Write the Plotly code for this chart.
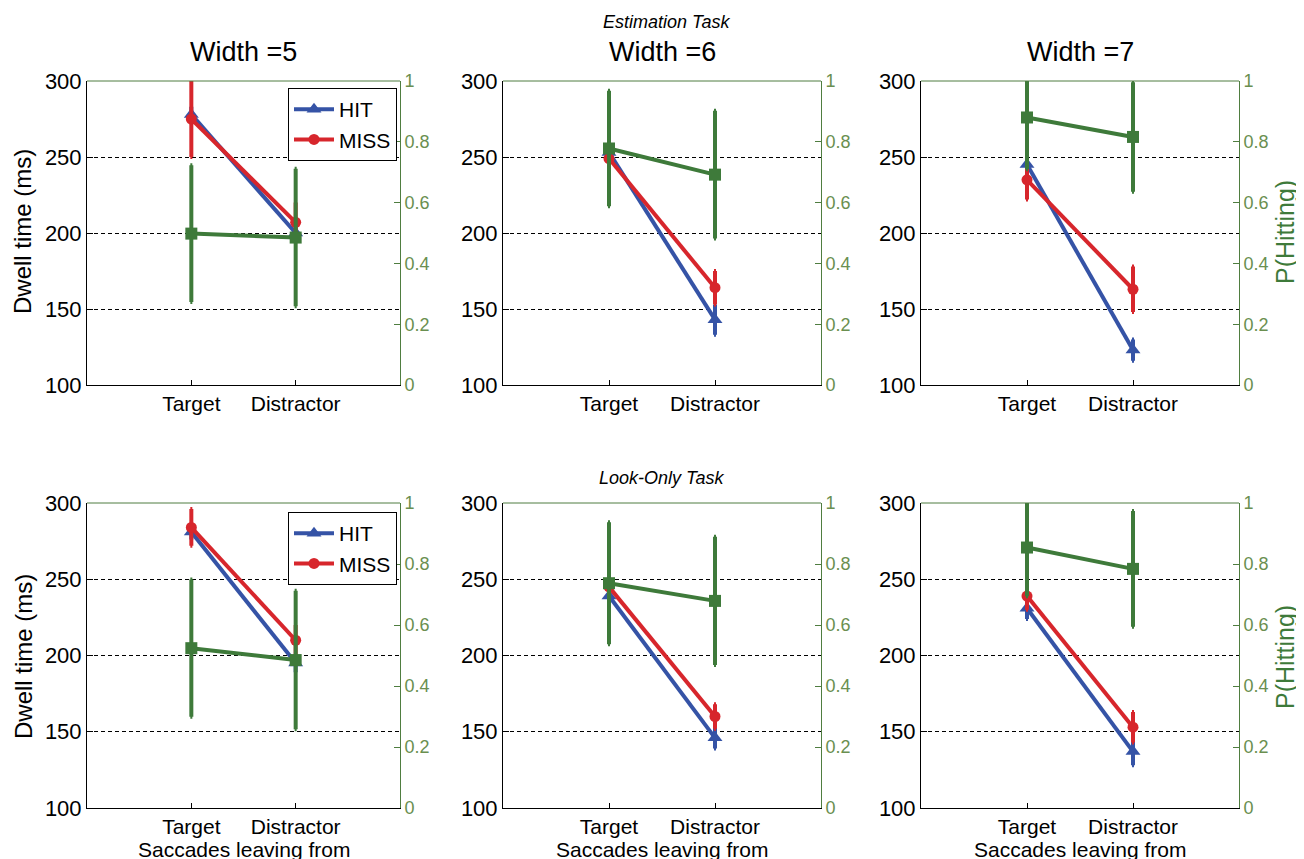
import plotly.graph_objects as go

# ---------------- data ----------------
panel_titles = ["Width =5", "Width =6", "Width =7"]
categories = ["Target", "Distractor"]
row_titles = ["Estimation Task", "Look-Only Task"]
left_ticks = [100, 150, 200, 250, 300]
right_ticks = [0, 0.2, 0.4, 0.6, 0.8, 1]
right_ticklabels = ["0", "0.2", "0.4", "0.6", "0.8", "1"]

# Estimation task
est_hit = [[278, 200], [253, 143], [245, 123]]
est_hit_err = [[5, 6], [18, 10], [5, 7]]
est_miss = [[275, 207], [249, 164], [235, 163]]
est_miss_err = [[25, 13], [14, 11], [13, 15]]
est_p = [[0.498, 0.485], [0.778, 0.692], [0.88, 0.816]]
est_p_err = [[0.225, 0.226], [0.19, 0.21], [0.17, 0.18]]

# Look-only task
look_hit = [[281, 195], [239, 146], [231, 137]]
look_hit_err = [[5, 6], [6, 7], [7, 9]]
look_miss = [[284, 210], [245, 160], [239, 153]]
look_miss_err = [[12, 10], [10, 8], [9, 10]]
look_p = [[0.524, 0.485], [0.737, 0.679], [0.854, 0.784]]
look_p_err = [[0.225, 0.227], [0.2, 0.21], [0.16, 0.19]]

# ---------------- style ----------------
W, H = 1304, 859
OFF = 8  # page body margin
BLUE = "#3553a6"
RED = "#d7262c"
GREEN = "#3e7a3a"
AXGREEN = "#4f7d40"
LBLGREEN = "#6a8f50"
FONT = "Liberation Sans, Arial, sans-serif"

col_px = [(87, 400), (503, 821), (921, 1239)]
row_px = [(81, 385), (503, 808)]


def fx(px):
    return (px - OFF) / W


def fy(py):
    return 1 - (py - OFF) / H


def aname(prefix, n):
    return prefix if n == 1 else f"{prefix}{n}"


fig = go.Figure()
layout = {}
annotations = []
shapes = []

rows = [
    (est_hit, est_hit_err, est_miss, est_miss_err, est_p, est_p_err),
    (look_hit, look_hit_err, look_miss, look_miss_err, look_p, look_p_err),
]

for r in range(2):
    hit, hit_e, miss, miss_e, pp, pp_e = rows[r]
    for c in range(3):
        i = r * 3 + 1 + c
        xa = aname("x", i)
        ya = aname("y", 2 * i - 1)
        ya2 = aname("y", 2 * i)
        legname = "legend" if r == 0 else "legend2"
        show = (c == 0)
        fig.add_trace(go.Scatter(
            x=categories, y=hit[c], xaxis=xa, yaxis=ya, name="HIT",
            mode="lines+markers",
            line=dict(color=BLUE, width=4),
            marker=dict(symbol="triangle-up", size=13, color=BLUE),
            error_y=dict(type="data", array=hit_e[c], color=BLUE, thickness=4, width=1),
            showlegend=show, legend=legname))
        fig.add_trace(go.Scatter(
            x=categories, y=miss[c], xaxis=xa, yaxis=ya, name="MISS",
            mode="lines+markers",
            line=dict(color=RED, width=4),
            marker=dict(symbol="circle", size=11, color=RED),
            error_y=dict(type="data", array=miss_e[c], color=RED, thickness=4, width=1),
            showlegend=show, legend=legname))
        fig.add_trace(go.Scatter(
            x=categories, y=pp[c], xaxis=xa, yaxis=ya2, name="P(Hitting)",
            mode="lines+markers",
            line=dict(color=GREEN, width=4),
            marker=dict(symbol="square", size=12, color=GREEN),
            error_y=dict(type="data", array=pp_e[c], color=GREEN, thickness=4, width=1),
            showlegend=False))

        x0, x1 = col_px[c]
        y0, y1 = row_px[r]
        xkey = aname("xaxis", i)
        ykey = aname("yaxis", 2 * i - 1)
        y2key = aname("yaxis", 2 * i)
        layout[xkey] = dict(
            domain=[fx(x0), fx(x1)], anchor=ya, type="category",
            range=[-1, 2], showline=True, linecolor="black", linewidth=1,
            ticks="inside", ticklen=5, tickcolor="black", showgrid=False,
            zeroline=False, automargin=False,
            tickfont=dict(size=21, color="black", family=FONT))
        layout[ykey] = dict(
            domain=[fy(y1), fy(y0)], anchor=xa, range=[100, 300],
            tickvals=left_ticks, showline=True, linecolor="black", linewidth=1,
            ticks="inside", ticklen=6, tickcolor="black",
            showgrid=True, gridcolor="black", griddash="4px,3px", gridwidth=1,
            zeroline=False, automargin=False,
            tickfont=dict(size=22, color="black", family=FONT))
        layout[y2key] = dict(
            overlaying=ya, anchor=xa, side="right", range=[0, 1],
            tickvals=right_ticks, ticktext=right_ticklabels,
            showline=True, linecolor=AXGREEN, linewidth=1,
            ticks="inside", ticklen=6, tickcolor=AXGREEN,
            showgrid=False, zeroline=False, automargin=False,
            tickfont=dict(size=18, color=LBLGREEN, family=FONT))
        # top frame (green, like the right-hand axis)
        shapes.append(dict(type="line", xref=f"{xa} domain", yref=f"{ya} domain",
                           x0=0, x1=1, y0=1, y1=1, layer="above",
                           line=dict(color=AXGREEN, width=1)))

# panel titles
for c in range(3):
    cx = (col_px[c][0] + col_px[c][1]) / 2
    annotations.append(dict(text=panel_titles[c], x=fx(cx), y=fy(52), xref="paper", yref="paper",
                            showarrow=False, xanchor="center", yanchor="middle",
                            font=dict(size=27, color="black", family=FONT)))
    annotations.append(dict(text="Saccades leaving from", x=fx(cx), y=fy(849), xref="paper", yref="paper",
                            showarrow=False, xanchor="center", yanchor="middle",
                            font=dict(size=21, color="black", family=FONT)))

annotations.append(dict(text="<i>" + row_titles[0] + "</i>", x=fx(666), y=fy(22), xref="paper", yref="paper",
                        showarrow=False, xanchor="center", yanchor="middle",
                        font=dict(size=18, color="black", family=FONT)))
annotations.append(dict(text="<i>" + row_titles[1] + "</i>", x=fx(661), y=fy(478), xref="paper", yref="paper",
                        showarrow=False, xanchor="center", yanchor="middle",
                        font=dict(size=18, color="black", family=FONT)))

for r, cy in enumerate([232, 657]):
    annotations.append(dict(text="Dwell time (ms)", x=fx(23), y=fy(cy), xref="paper", yref="paper",
                            showarrow=False, textangle=-90, xanchor="center", yanchor="middle",
                            font=dict(size=24, color="black", family=FONT)))
    annotations.append(dict(text="P(Hitting)", x=fx(1285), y=fy(cy), xref="paper", yref="paper",
                            showarrow=False, textangle=-90, xanchor="center", yanchor="middle",
                            font=dict(size=25, color=GREEN, family=FONT)))

legend_style = dict(bgcolor="white", bordercolor="black", borderwidth=1,
                    font=dict(size=21, color="black", family=FONT),
                    xanchor="right", yanchor="top", tracegroupgap=0, itemwidth=40)

fig.update_layout(
    width=W, height=H,
    margin=dict(l=0, r=0, t=0, b=0, pad=0, autoexpand=False),
    paper_bgcolor="white", plot_bgcolor="white",
    font=dict(family=FONT, color="black"),
    annotations=annotations, shapes=shapes,
    legend=dict(x=fx(397), y=fy(88), **legend_style),
    legend2=dict(x=fx(397), y=fy(512), **legend_style),
    **layout)

fig.write_html("out.html")
